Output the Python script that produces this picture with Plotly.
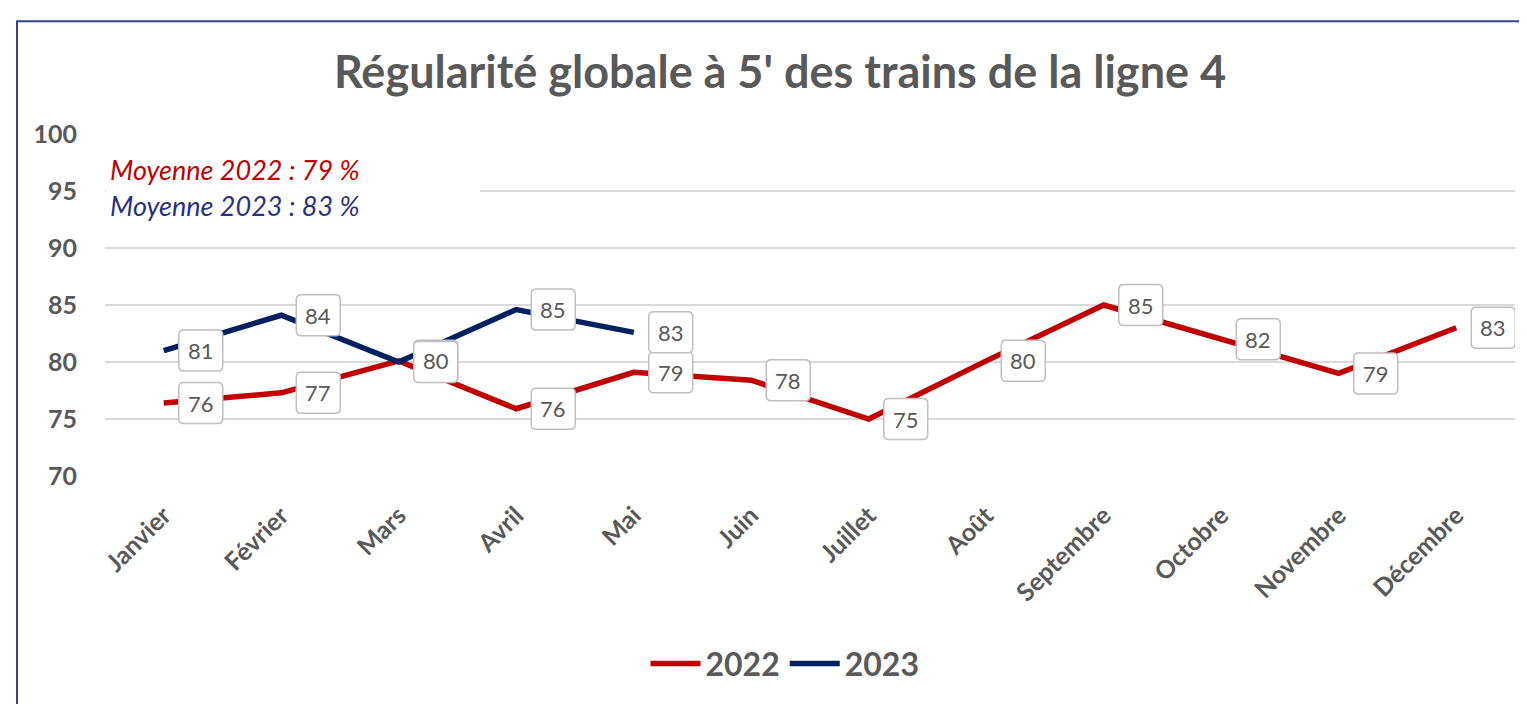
import plotly.graph_objects as go

months = ["Janvier", "Février", "Mars", "Avril", "Mai", "Juin", "Juillet",
          "Août", "Septembre", "Octobre", "Novembre", "Décembre"]
values_2022 = [76.4, 77.3, 80.1, 75.9, 79.1, 78.4, 75.0, 80.1, 85.0, 82.0, 79.0, 83.0]
months_2023 = ["Janvier", "Février", "Mars", "Avril", "Mai"]
values_2023 = [81.0, 84.1, 80.0, 84.6, 82.6]
y_ticks = [70, 75, 80, 85, 90, 95, 100]
mean_texts = ["Moyenne 2022 : 79 %", "Moyenne 2023 : 83 %"]

RED = "#C00000"
NAVY = "#002060"
GRAY = "#595959"
FONT = "Lato"

# page body adds an 8px margin; work in screen pixels and convert
OFF = 8
SW, SH = 1527, 704
W, H = SW - OFF, SH - OFF
PL, PR, PT, PB = 105, 1515, 134, 480          # plot area in screen px
ML, MR, MT, MB = PL - OFF, SW - PR, PT - OFF, SH - PB
PW, PH = PR - PL, PB - PT


def sx(px):
    return (px - PL) / PW


def sy(py):
    return (PB - py) / PH


fig = go.Figure()
fig.add_trace(go.Scatter(x=months, y=values_2022, mode="lines", name="2022",
                         line=dict(color=RED, width=5.5)))
fig.add_trace(go.Scatter(x=months_2023, y=values_2023, mode="lines", name="2023",
                         line=dict(color=NAVY, width=5.5)))

# rounded label boxes anchored to data points (pixel offsets)
box_path = ("M 20,-20.5 L 54,-20.5 Q 59,-20.5 59,-15.5 L 59,15.5 Q 59,20.5 54,20.5 "
            "L 20,20.5 Q 15,20.5 15,15.5 L 15,-15.5 Q 15,-20.5 20,-20.5 Z")
shapes = []
annotations = []
seen = set()
for xs, ys in [(months, values_2022), (months_2023, values_2023)]:
    for m, v in zip(xs, ys):
        key = (m, round(v))
        shapes.append(dict(type="path", xref="x", yref="y", xsizemode="pixel",
                           ysizemode="pixel", xanchor=m, yanchor=v, path=box_path,
                           fillcolor="white", line=dict(color="#BFBFBF", width=1.5),
                           layer="above"))
        if key in seen:
            continue
        seen.add(key)
        annotations.append(dict(x=m, y=v, xref="x", yref="y", text=f"{v:.0f}",
                                showarrow=False, xshift=37, yshift=0,
                                font=dict(family=FONT, size=22, color=GRAY)))

# white box behind the averages text (hides gridline)
shapes.append(dict(type="rect", xref="paper", yref="paper", layer="above",
                   x0=sx(106), x1=sx(480), y0=sy(225), y1=sy(150),
                   fillcolor="white", line=dict(width=0)))
# outer chart border (left and top edges visible)
shapes.append(dict(type="path", xref="paper", yref="paper", layer="above",
                   path=f"M {sx(17)},{sy(720)} L {sx(17)},{sy(20)} L {sx(1540)},{sy(20)}",
                   line=dict(color="#3A3F8F", width=2)))

annotations.append(dict(xref="paper", yref="paper", x=sx(108), y=sy(170),
                        xanchor="left", yanchor="middle",
                        text=f"<i>{mean_texts[0]}</i>", showarrow=False,
                        font=dict(family=FONT, size=27, color=RED)))
annotations.append(dict(xref="paper", yref="paper", x=sx(108), y=sy(206),
                        xanchor="left", yanchor="middle",
                        text=f"<i>{mean_texts[1]}</i>", showarrow=False,
                        font=dict(family=FONT, size=27, color="#2B3080")))

fig.update_layout(
    width=W, height=H,
    margin=dict(l=ML, r=MR, t=MT, b=MB),
    paper_bgcolor="white", plot_bgcolor="white",
    title=dict(text="<b>Régularité globale à 5' des trains de la ligne 4</b>",
               x=(780 - OFF) / W, xanchor="center", xref="container",
               y=1 - (72 - OFF) / H, yanchor="middle", yref="container",
               font=dict(family=FONT, size=45, color=GRAY)),
    xaxis=dict(type="category", categoryorder="array", categoryarray=months,
               range=[-0.5, 11.5], showgrid=False, zeroline=False, showline=False,
               ticks="", tickangle=-45, ticklabelstandoff=19,
               tickfont=dict(family=FONT, size=25, color=GRAY, weight="bold")),
    yaxis=dict(range=[70, 100], tickvals=y_ticks, showgrid=True,
               gridcolor="#D9D9D9", gridwidth=2, zeroline=False, showline=False,
               ticks="", ticklabelstandoff=27,
               tickfont=dict(family=FONT, size=25, color=GRAY, weight="bold")),
    legend=dict(orientation="h", x=sx(785), xanchor="center",
                y=sy(670), yanchor="middle",
                font=dict(family=FONT, size=32, color=GRAY, weight="bold"),
                itemwidth=50, bgcolor="rgba(0,0,0,0)"),
    shapes=shapes,
    annotations=annotations,
)

fig.write_html("out.html")
